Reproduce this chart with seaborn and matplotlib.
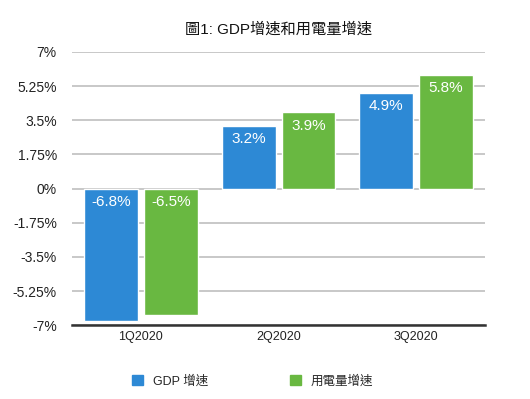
import pandas as pd
import seaborn as sns
import matplotlib.pyplot as plt

# 數據
quarters = ['1Q2020', '2Q2020', '3Q2020']
gdp_growth = [-6.8, 3.2, 4.9]
power_growth = [-6.5, 3.9, 5.8]
series_names = ['GDP 增速', '用電量增速']
y_ticks = [-7, -5.25, -3.5, -1.75, 0, 1.75, 3.5, 5.25, 7]
y_tick_labels = ['-7%', '-5.25%', '-3.5%', '-1.75%', '0%', '1.75%', '3.5%', '5.25%', '7%']
colors = ['#2d89d5', '#69b841']

df = pd.DataFrame({
    'quarter': quarters * 2,
    'value': gdp_growth + power_growth,
    'series': [series_names[0]] * 3 + [series_names[1]] * 3,
})

sns.set_style('white')
plt.rcParams['font.family'] = ['Liberation Sans', 'Noto Sans CJK TC', 'DejaVu Sans']

fig = plt.figure(figsize=(5.3, 3.99), dpi=100)
ax = fig.add_axes([0.136, 0.185, 0.779, 0.685])

sns.barplot(data=df, x='quarter', y='value', hue='series', palette=colors,
            width=0.87, gap=0.1, saturation=1, ax=ax, zorder=3)

ax.set_ylim(-7, 7)
ax.set_yticks(y_ticks)
ax.set_yticklabels(y_tick_labels)
ax.grid(axis='y', color='#c4c4c4', linewidth=1.3, zorder=0)
ax.set_axisbelow(True)
for s in ['top', 'right', 'left']:
    ax.spines[s].set_visible(False)
ax.spines['bottom'].set_color('#333333')
ax.spines['bottom'].set_linewidth(1.8)
ax.spines['bottom'].set_zorder(4)
ax.tick_params(axis='y', length=0, pad=11, labelsize=10, colors='#222222')
ax.tick_params(axis='x', length=0, pad=4, labelsize=9, colors='#222222')
ax.set_xlabel('')
ax.set_ylabel('')

# 柱內數字標籤
for cont in ax.containers:
    for p in cont.patches:
        h = p.get_height()
        top = max(p.get_y(), p.get_y() + h)
        ax.annotate(f'{h:.1f}%', (p.get_x() + p.get_width() / 2, top),
                    xytext=(0, -9.5), textcoords='offset points',
                    ha='center', va='center', color='white', fontsize=11, zorder=5)

ax.legend_.remove()
handles = [plt.Rectangle((0, 0), 1, 1, color=c) for c in colors]
fig.legend(handles, series_names, loc='center', bbox_to_anchor=(0.477, 0.045),
           ncol=2, frameon=False, fontsize=9, handlelength=0.9, handleheight=0.9,
           handletextpad=0.8, columnspacing=6.5)

fig.suptitle('圖1: GDP增速和用電量增速', x=0.525, y=0.945, fontsize=11, color='#111111')

fig.savefig('out.png', dpi=100)
